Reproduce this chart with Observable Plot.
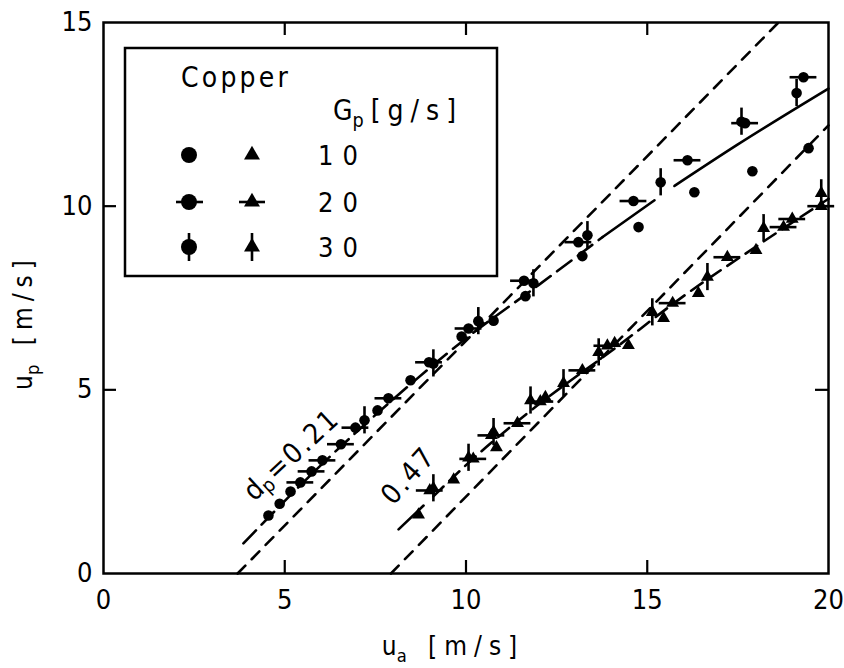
<!DOCTYPE html>
<html><head><meta charset="utf-8">
<script src="https://cdn.jsdelivr.net/npm/d3@7"></script>
<script src="https://cdn.jsdelivr.net/npm/@observablehq/plot@0.6"></script>
<style>
body{margin:0;background:#fff;}
#chart{position:relative;width:844px;height:668px;}
</style></head><body><div id="chart"></div>
<script>
// ---- data (u_a [m/s], u_p [m/s]) ----
const circG10 = [[4.55,1.58],[4.86,1.9],[5.16,2.23],[7.56,4.44],[8.47,5.26],[9.88,6.45],[10.76,6.88],[11.64,7.55],[13.21,8.64],[14.76,9.43],[16.3,10.38],[17.9,10.95],[19.45,11.58]];
const circG20 = [[5.43,2.48],[5.74,2.78],[6.04,3.08],[6.55,3.52],[6.95,3.97],[7.86,4.77],[8.98,5.75],[10.07,6.67],[11.6,7.97],[13.1,9.02],[14.62,10.14],[16.11,11.25],[17.7,12.26],[19.31,13.51]];
const circG30 = [[7.2,4.17],[9.1,5.72],[10.34,6.87],[11.86,7.9],[13.35,9.21],[15.37,10.65],[17.6,12.3],[19.12,13.08]];
const triG10 = [[8.69,1.6],[9.66,2.55],[10.84,3.43],[12.19,4.8],[14.1,6.27],[14.48,6.21],[15.45,6.95],[16.41,7.63],[18.0,8.8]];
const triG20 = [[9.0,2.26],[10.2,3.12],[10.7,3.76],[11.42,4.09],[12.05,4.68],[13.21,5.53],[13.9,6.2],[15.7,7.36],[17.21,8.61],[18.76,9.43],[19.0,9.65],[19.8,10.0]];
const triG30 = [[9.1,2.32],[10.07,3.15],[10.76,3.85],[11.78,4.71],[12.69,5.18],[13.66,6.02],[15.14,7.11],[16.66,8.07],[18.21,9.4],[19.8,10.35]];
// theoretical lines (short dash)
const theory021 = [[3.7,0],[18.62,15]];
const theory047 = [[7.93,0],[20,12.2]];
// fitted curves
const fit021Dashed = [[3.86,0.82],[6,2.95],[8,4.75],[10,6.4],[12,7.85],[13.77,9.16]];
const fit021SolidA = [[13.77,9.16],[15.2,10.16]];
const fit021SolidB = [[15.75,10.55],[17.5,11.68],[20,13.2]];
const fit047Solid = [[8.14,1.2],[8.83,1.85]];
const fit047Dashed = [[9.1,2.1],[10,2.95],[12,4.6],[14,6.05],[16,7.55],[18,8.9],[20,10.2]];
// tick values
const xTickLabels = [0,5,10,15,20];
const yTickLabels = [0,5,10,15];
const xTickMarks = [5,10,15];
const yTickMarks = [5,10];
// annotation anchors
const annotations = [{text:["d","p","=0.21"], x:5.19, y:3.24, angle:-43},{text:["0.47"], x:8.41, y:2.67, angle:-48}];
const legendRows = ["10","20","30"];

// ---- layout ----
const W = 844, H = 668, mL = 103, mR = 16, mT = 22, mB = 95;
const plotW = W - mL - mR, plotH = H - mT - mB, tickLen = 13;
const err = 0.37;
const FONT = "'DejaVu Sans', sans-serif";

const toObj = a => a.map(([ua, up]) => ({ua, up}));
const circles = [...toObj(circG10), ...toObj(circG20), ...toObj(circG30)];
const tris = [...toObj(triG10), ...toObj(triG20), ...toObj(triG30)];
const hbar = [...toObj(circG20), ...toObj(triG20)];
const vbar = [...toObj(circG30), ...toObj(triG30)];

const lineOpts = (dash) => ({x: d => d[0], y: d => d[1], stroke: "black", strokeWidth: 2.6, strokeDasharray: dash, curve: "monotone-x"});

const plot = Plot.plot({
  width: W, height: H,
  marginLeft: mL, marginRight: mR, marginTop: mT, marginBottom: mB,
  style: {fontFamily: FONT, fontStretch: "condensed", background: "white", color: "black"},
  x: {domain: [0, 20]},
  y: {domain: [0, 15]},
  marks: [
    Plot.frame({stroke: "black", strokeWidth: 2.5}),
    Plot.tickX(xTickMarks, {x: d => d, insetTop: plotH - tickLen, strokeWidth: 2.2}),
    Plot.tickX(xTickMarks, {x: d => d, insetBottom: plotH - tickLen, strokeWidth: 2.2}),
    Plot.tickY(yTickMarks, {y: d => d, insetRight: plotW - tickLen, strokeWidth: 2.2}),
    Plot.tickY(yTickMarks, {y: d => d, insetLeft: plotW - tickLen, strokeWidth: 2.2}),
    Plot.axisX({ticks: xTickLabels, tickSize: 0, tickPadding: 16, fontSize: 27, label: null, tickFormat: d => String(d)}),
    Plot.axisY({ticks: yTickLabels, tickSize: 0, tickPadding: 11, fontSize: 27, label: null, tickFormat: d => String(d)}),
    Plot.line(theory021, lineOpts("11,9")),
    Plot.line(theory047, lineOpts("11,9")),
    Plot.line(fit021Dashed, lineOpts("18,8")),
    Plot.line(fit021SolidA, lineOpts(null)),
    Plot.line(fit021SolidB, lineOpts(null)),
    Plot.line(fit047Solid, lineOpts(null)),
    Plot.line(fit047Dashed, lineOpts("14,8")),
    Plot.ruleY(hbar, {y: "up", x1: d => d.ua - err, x2: d => d.ua + err, stroke: "black", strokeWidth: 2.6}),
    Plot.ruleX(vbar, {x: "ua", y1: d => d.up - err, y2: d => d.up + err, stroke: "black", strokeWidth: 2.6}),
    Plot.dot(circles, {x: "ua", y: "up", r: 5.3, fill: "black", symbol: "circle"}),
    Plot.dot(tris, {x: "ua", y: "up", r: 4.8, fill: "black", symbol: "triangle"})
  ]
});
document.getElementById("chart").appendChild(plot);

const svg = d3.select(plot);
const sx = plot.scale("x"), sy = plot.scale("y");

// helper for text with subscripts; spacing ls applied per tspan, none before a subscript
function richText(g, parts, fs, ls = 0) {
  const t = g.append("text").attr("font-family", FONT).attr("font-size", fs).attr("fill", "black").attr("text-anchor", "start");
  parts.forEach((p, i) => {
    const sub = typeof p === "object";
    const s = t.append("tspan").text(sub ? p.sub : p);
    const nextSub = i + 1 < parts.length && typeof parts[i+1] === "object";
    s.attr("letter-spacing", nextSub ? 0 : ls);
    if (sub) s.attr("font-size", fs * 0.7).attr("dy", fs * 0.25);
    else if (i > 0 && typeof parts[i-1] === "object") s.attr("dy", -fs * 0.25);
  });
  return t;
}

// annotations
for (const a of annotations) {
  const g = svg.append("g").attr("transform", `translate(${sx.apply(a.x)},${sy.apply(a.y)}) rotate(${a.angle})`);
  const parts = a.text.length === 3 ? [a.text[0], {sub: a.text[1]}, a.text[2]] : a.text;
  richText(g, parts, 28, 2.5).attr("text-anchor", "middle").attr("dominant-baseline", "central")
    .style("font-stretch", "condensed");
}

// axis titles
richText(svg.append("g").attr("transform", `translate(453,655)`), ["u", {sub: "a"}, " [m/s]"], 26, 7)
  .attr("text-anchor", "middle");
richText(svg.append("g").attr("transform", `translate(32,322) rotate(-90)`), ["u", {sub: "p"}, " [m/s]"], 26, 6)
  .attr("text-anchor", "middle");

// legend
const lg = svg.append("g");
lg.append("rect").attr("x", 125).attr("y", 48).attr("width", 372).attr("height", 228)
  .attr("fill", "white").attr("stroke", "black").attr("stroke-width", 2.5);
richText(lg.append("g").attr("transform", "translate(181,87)"), ["Copper"], 28, 3.2);
richText(lg.append("g").attr("transform", "translate(333,120)"), ["G", {sub: "p"}, "[g/s]"], 28, 7);
const rowY = [155, 202, 247];
const tri = d3.symbol(d3.symbolTriangle, 110)();
legendRows.forEach((lab, i) => {
  const y = rowY[i];
  lg.append("circle").attr("cx", 189).attr("cy", y).attr("r", 8).attr("fill", "black");
  lg.append("path").attr("d", tri).attr("transform", `translate(252,${y})`).attr("fill", "black");
  if (i === 1) {
    lg.append("line").attr("x1", 176).attr("x2", 203).attr("y1", y).attr("y2", y).attr("stroke", "black").attr("stroke-width", 2.6);
    lg.append("line").attr("x1", 239).attr("x2", 265).attr("y1", y).attr("y2", y).attr("stroke", "black").attr("stroke-width", 2.6);
  }
  if (i === 2) {
    lg.append("line").attr("x1", 189).attr("x2", 189).attr("y1", y - 14).attr("y2", y + 14).attr("stroke", "black").attr("stroke-width", 2.6);
    lg.append("line").attr("x1", 252).attr("x2", 252).attr("y1", y - 14).attr("y2", y + 14).attr("stroke", "black").attr("stroke-width", 2.6);
  }
  richText(lg.append("g").attr("transform", `translate(318,${y + 10})`), [lab], 27, 9).style("font-stretch", "condensed");
});
</script></body></html>
